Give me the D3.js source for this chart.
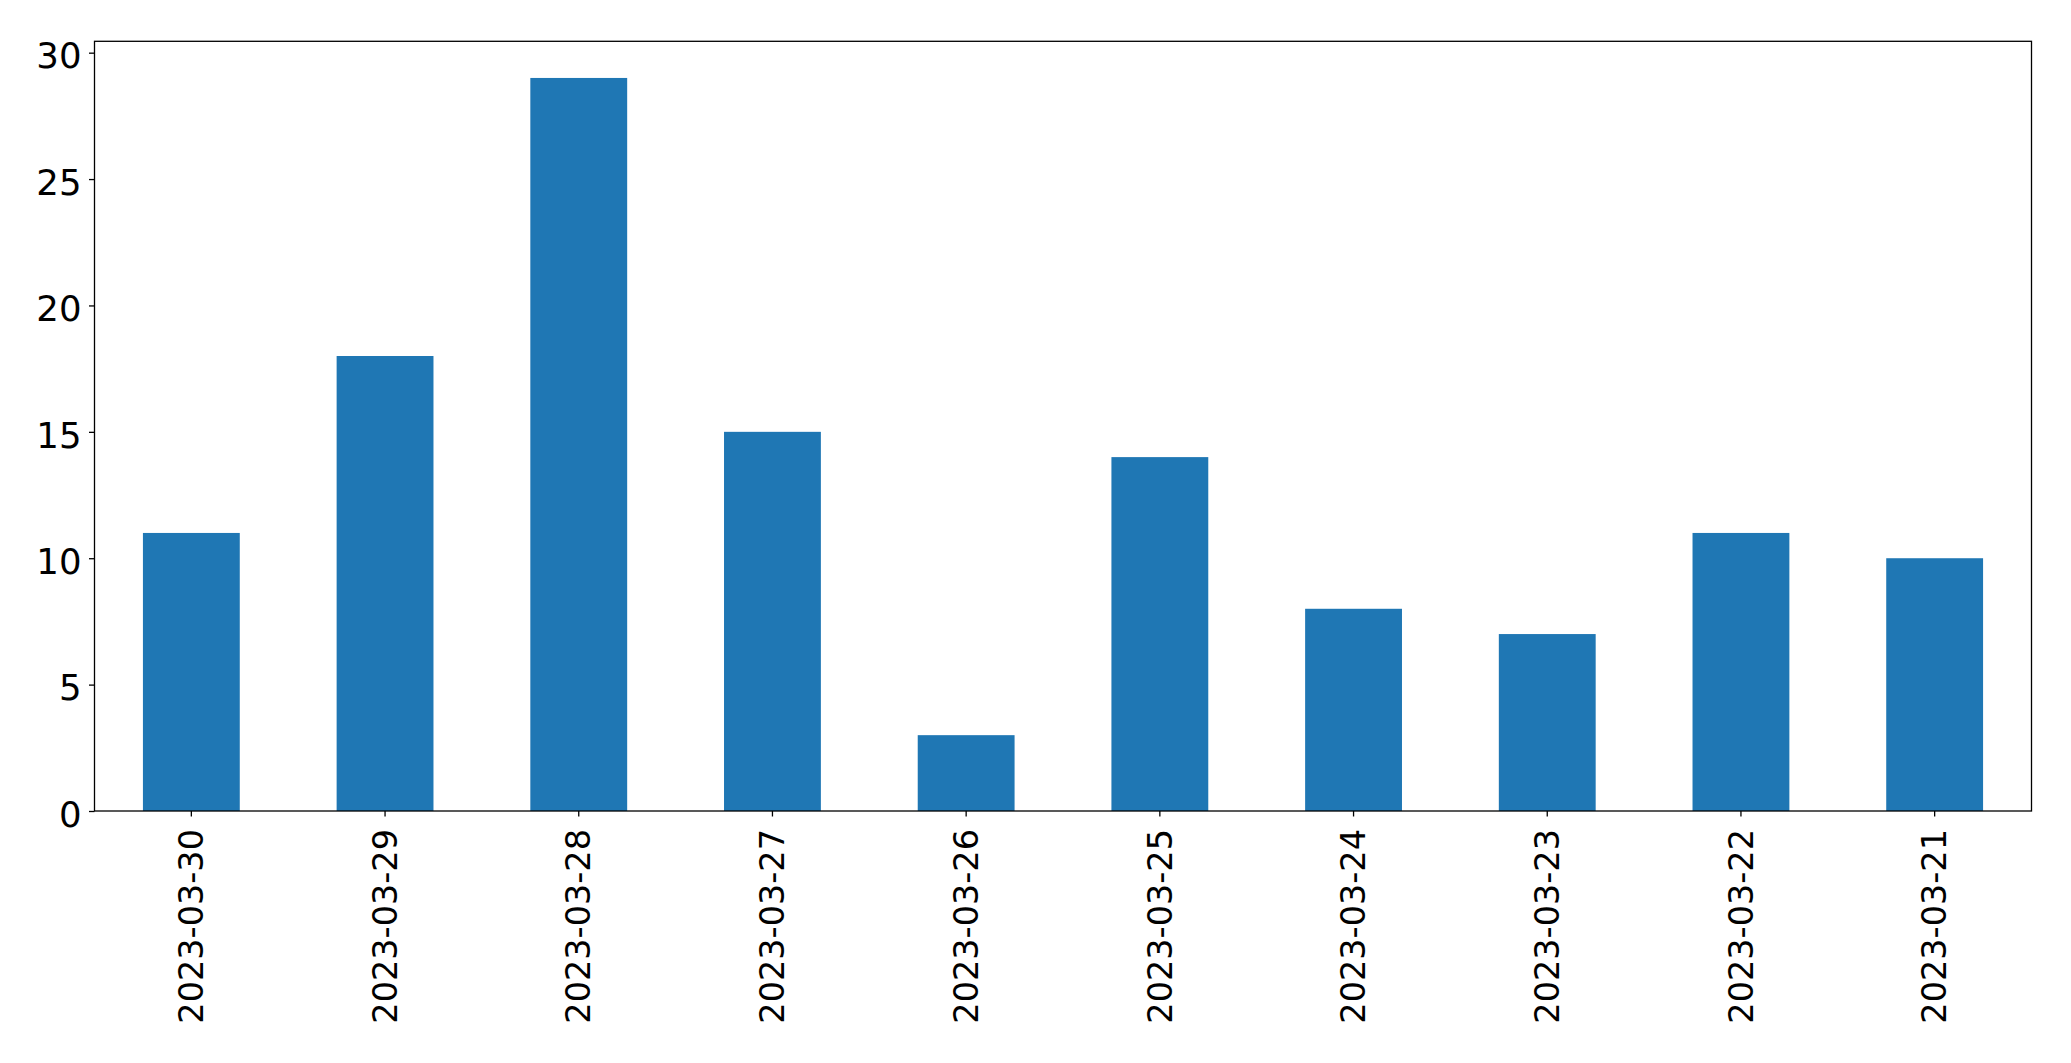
<!DOCTYPE html>
<html><head><meta charset="utf-8">
<script src="https://cdn.jsdelivr.net/npm/d3@7"></script>
<style>html,body{margin:0;padding:0;background:#fff;}svg{display:block;}</style>
</head><body>
<svg id="c" width="2071" height="1063"></svg>
<script>
const categories = ["2023-03-30","2023-03-29","2023-03-28","2023-03-27","2023-03-26","2023-03-25","2023-03-24","2023-03-23","2023-03-22","2023-03-21"];
const values = [11, 18, 29, 15, 3, 14, 8, 7, 11, 10];
const yTicks = [0, 5, 10, 15, 20, 25, 30];

const svg = d3.select("#c");
const L = 94.5, R = 2031.5, T = 41.3, B = 811;
const x = d3.scaleBand().domain(categories).range([L, R]).paddingInner(0.5).paddingOuter(0.25);
const y = d3.scaleLinear().domain([0, d3.max(values) * 1.05]).range([B, T]);

svg.append("g").selectAll("rect").data(values).join("rect")
  .attr("x", (d, i) => x(categories[i]))
  .attr("width", x.bandwidth())
  .attr("y", d => y(d))
  .attr("height", d => y(0) - y(d))
  .attr("fill", "#1f77b4");

const font = "DejaVu Sans, sans-serif";
const yAxis = svg.append("g").attr("transform", `translate(${L},0)`)
  .call(d3.axisLeft(y).tickValues(yTicks).tickSize(5.5).tickPadding(7.5).tickFormat(d3.format("d")));
yAxis.select(".domain").remove();
yAxis.selectAll("text").attr("font-family", font).attr("font-size", 35.5).attr("fill", "#000").attr("dy", "0.43em");
yAxis.selectAll("line").attr("stroke", "#000").attr("stroke-width", 1.3);

const xAxis = svg.append("g").attr("transform", `translate(0,${B})`)
  .call(d3.axisBottom(x).tickSize(5.5).tickPadding(0));
xAxis.select(".domain").remove();
xAxis.selectAll("line").attr("stroke", "#000").attr("stroke-width", 1.3);
xAxis.selectAll("text")
  .attr("font-family", font).attr("font-size", 33.5).attr("fill", "#000")
  .attr("transform", "translate(0,18) rotate(-90)")
  .attr("text-anchor", "end").attr("dy", "0.35em").attr("x", 0).attr("y", 0);

svg.append("rect").attr("x", L).attr("y", T).attr("width", R - L).attr("height", B - T)
  .attr("fill", "none").attr("stroke", "#000").attr("stroke-width", 1.3);
</script>
</body></html>
